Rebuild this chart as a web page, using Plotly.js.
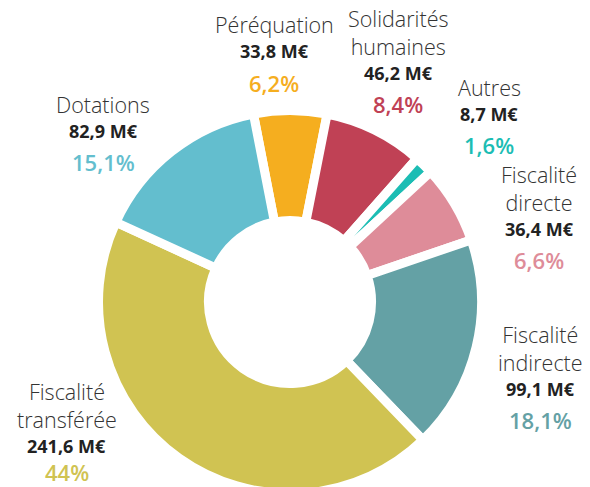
<!DOCTYPE html>
<html>
<head>
<meta charset="utf-8">
<script src="https://cdn.plot.ly/plotly-3.0.1.min.js"></script>
<style>
html, body { margin: 0; padding: 0; overflow: hidden; background: #fff; }
#chart { width: 590px; height: 500px; }
</style>
</head>
<body>
<div id="chart"></div>
<script>
// ---- data ----
const categories = ["Péréquation", "Solidarités<br>humaines", "Autres", "Fiscalité<br>directe", "Fiscalité<br>indirecte", "Fiscalité<br>transférée", "Dotations"];
const amounts = [33.8, 46.2, 8.7, 36.4, 99.1, 241.6, 82.9];          // M€
const amountLabels = ["33,8 M€", "46,2 M€", "8,7 M€", "36,4 M€", "99,1 M€", "241,6 M€", "82,9 M€"];
const shareLabels = ["6,2%", "8,4%", "1,6%", "6,6%", "18,1%", "44%", "15,1%"];

// ---- styles / layout ----
const colors = ["#F5AE1F", "#C04155", "#1CBDB4", "#DE8C99", "#64A1A5", "#D0C352", "#63BECE"];
// label anchor: centre x and baseline y of the amount line, in pixels
const labelAnchors = [[274, 58.3], [398, 80], [489, 120.7], [539, 236], [540, 396], [66.5, 453.3], [103, 137.7]];

const W = 590, H = 500;
const FONT = '"Open Sans", "Noto Sans", sans-serif';
const nameSize = 21.5, valSize = 18, pctSize = 22;

function px2x(px) { return px / W; }
function px2y(py) { return 1 - py / H; }
// y (block centre, yanchor middle) from the baseline of the last line
function mid(baseline, fs, nLines) { return baseline - 0.65 * fs * ((nLines || 1) - 1) - 0.388 * fs; }

const annotations = [];
categories.forEach((cat, i) => {
  const [cx, by] = labelAnchors[i];
  const n = cat.split("<br>").length;
  annotations.push({
    text: cat, x: px2x(cx), y: px2y(mid(by - 25, nameSize, n)), xref: "paper", yref: "paper",
    xanchor: "center", yanchor: "middle", showarrow: false, align: "center",
    font: { family: FONT, size: nameSize, color: "#333333", weight: 300 }
  });
  annotations.push({
    text: amountLabels[i], x: px2x(cx), y: px2y(mid(by, valSize)), xref: "paper", yref: "paper",
    xanchor: "center", yanchor: "middle", showarrow: false,
    font: { family: FONT, size: valSize, color: "#222222", weight: 700 }
  });
  const pb = Math.min(by + 33, 481);
  annotations.push({
    text: shareLabels[i], x: px2x(cx), y: px2y(mid(pb, pctSize)), xref: "paper", yref: "paper",
    xanchor: "center", yanchor: "middle", showarrow: false,
    font: { family: FONT, size: pctSize, color: colors[i], weight: 600 }
  });
});

const cx = 290, cy = 302, R = 191.5;
const trace = {
  type: "pie",
  labels: categories,
  values: amounts,
  sort: false,
  direction: "clockwise",
  rotation: -11,
  hole: 81.5 / R,
  textinfo: "none",
  hoverinfo: "none",
  showlegend: false,
  marker: { colors: colors, line: { color: "#ffffff", width: 9 } },
  domain: { x: [px2x(cx - R), px2x(cx + R)], y: [px2y(cy + R), px2y(cy - R)] }
};

const layout = {
  width: W, height: H,
  margin: { l: 0, r: 0, t: 0, b: 0 },
  paper_bgcolor: "#ffffff",
  plot_bgcolor: "#ffffff",
  showlegend: false,
  annotations: annotations
};

Plotly.newPlot("chart", [trace], layout, { staticPlot: true, displayModeBar: false });
</script>
</body>
</html>
